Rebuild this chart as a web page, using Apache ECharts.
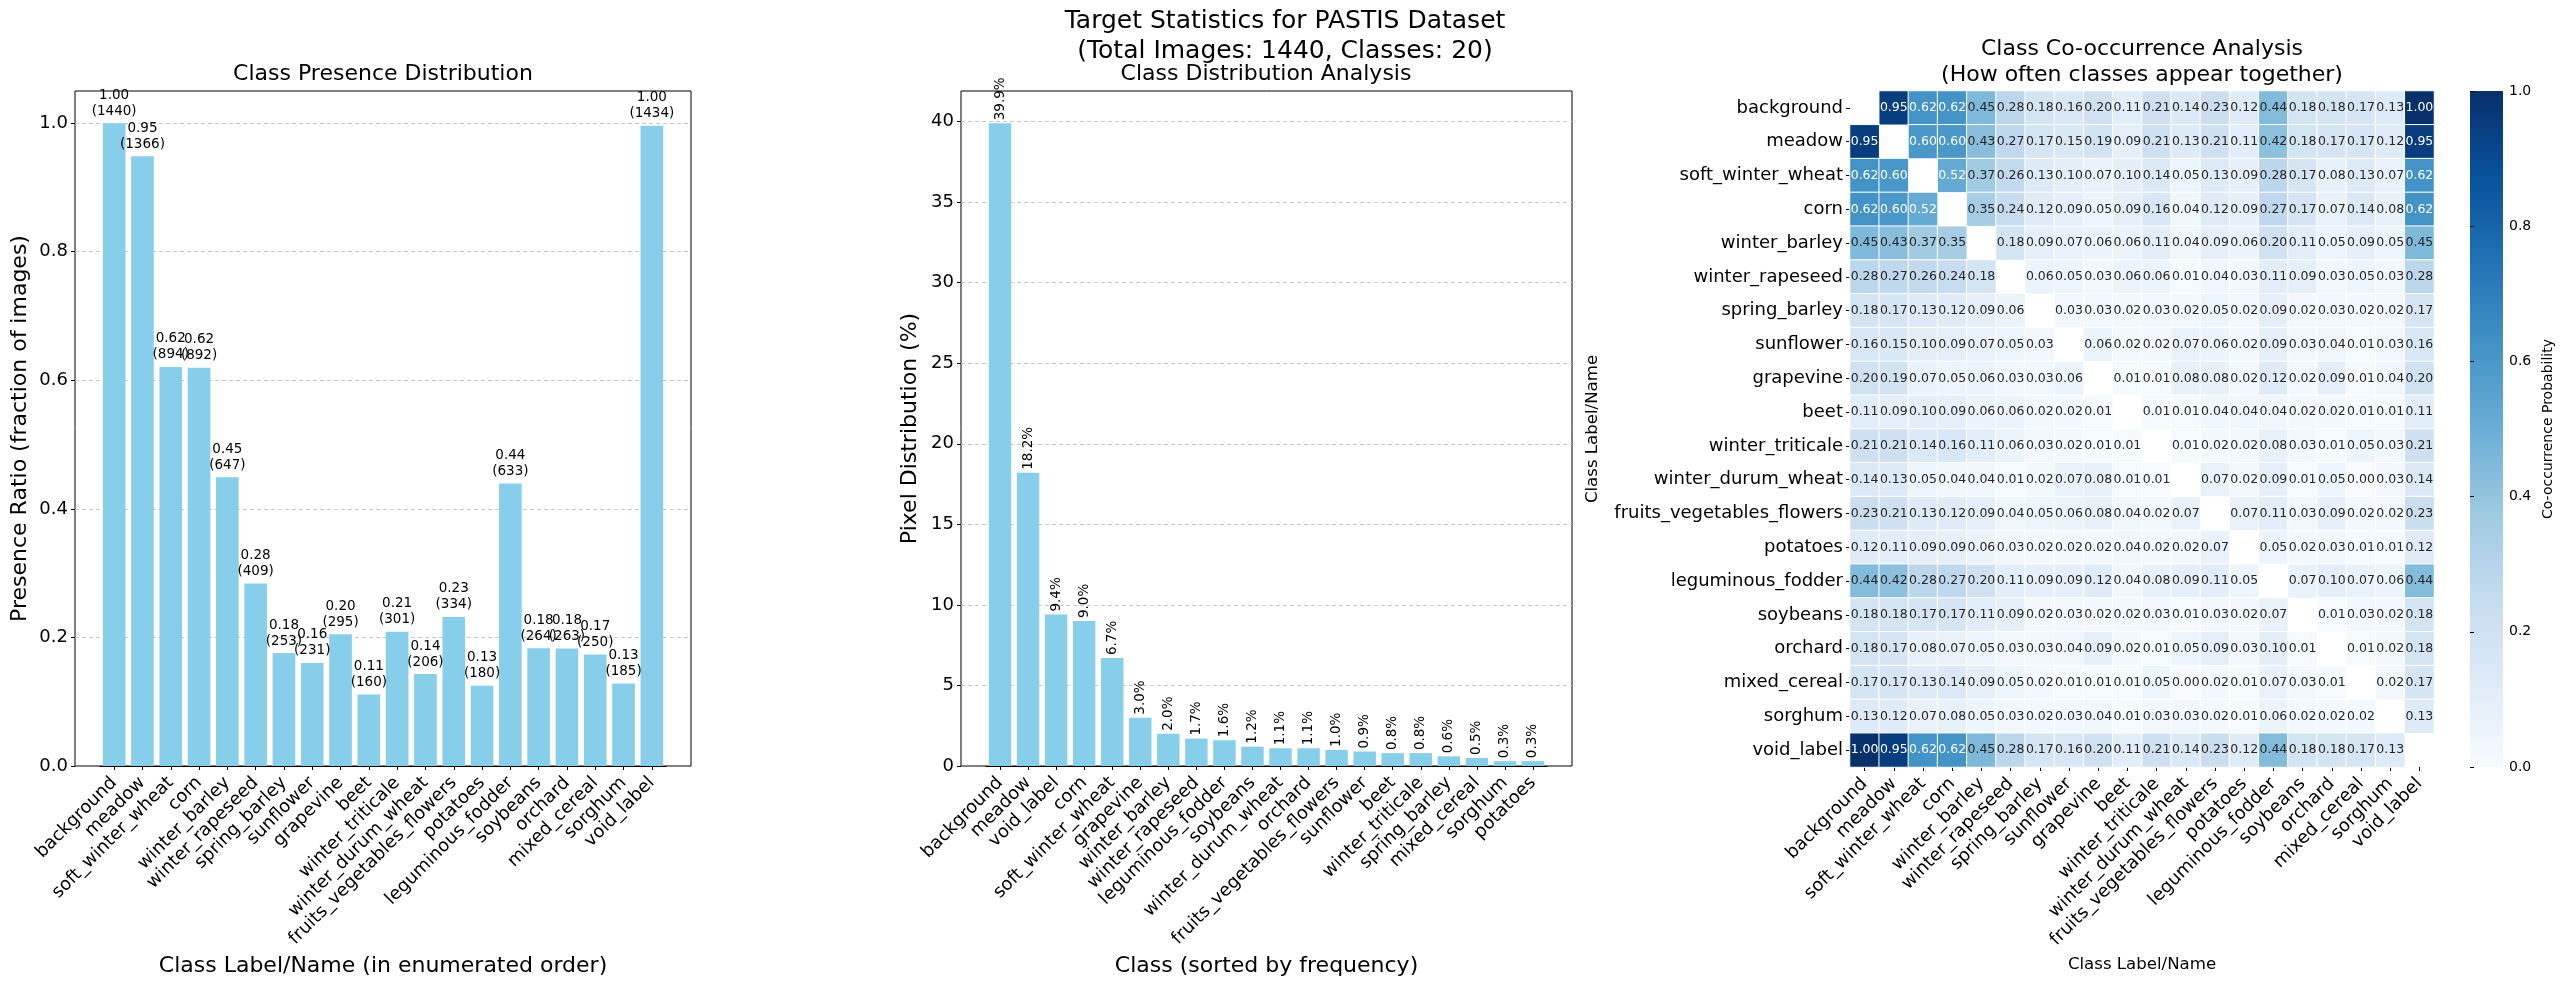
<!DOCTYPE html>
<html>
<head>
<meta charset="utf-8">
<title>PASTIS target statistics</title>
<script src="https://cdn.jsdelivr.net/npm/echarts@6.0.0/dist/echarts.min.js"></script>
<style>
  html, body { margin: 0; padding: 0; background: #fff; }
  #chart { width: 2565px; height: 985px; }
</style>
</head>
<body>
<div id="chart"></div>
<script>
// class names in enumerated order
var classNames = ['background', 'meadow', 'soft_winter_wheat', 'corn', 'winter_barley',
  'winter_rapeseed', 'spring_barley', 'sunflower', 'grapevine', 'beet', 'winter_triticale',
  'winter_durum_wheat', 'fruits_vegetables_flowers', 'potatoes', 'leguminous_fodder',
  'soybeans', 'orchard', 'mixed_cereal', 'sorghum', 'void_label'];

var totalImages = 1440;
// number of images in which each class appears
var presenceCount = [1440, 1366, 894, 892, 647, 409, 253, 231, 295, 160, 301, 206, 334, 180, 633, 264, 263, 250, 185, 1434];

// pixel share, sorted by frequency
var sortedClasses = ['background', 'meadow', 'void_label', 'corn', 'soft_winter_wheat', 'grapevine',
  'winter_barley', 'winter_rapeseed', 'leguminous_fodder', 'soybeans', 'winter_durum_wheat', 'orchard',
  'fruits_vegetables_flowers', 'sunflower', 'beet', 'winter_triticale', 'spring_barley',
  'mixed_cereal', 'sorghum', 'potatoes'];
var pixelPct = [39.9, 18.2, 9.4, 9.0, 6.7, 3.0, 2.0, 1.7, 1.6, 1.2, 1.1, 1.1, 1.0, 0.9, 0.8, 0.8, 0.6, 0.5, 0.3, 0.3];

// co-occurrence matrix (rows = classNames), diagonal masked
var cooc = [
  [null, 0.95, 0.62, 0.62, 0.45, 0.28, 0.18, 0.16, 0.20, 0.11, 0.21, 0.14, 0.23, 0.12, 0.44, 0.18, 0.18, 0.17, 0.13, 1.00],
  [0.95, null, 0.60, 0.60, 0.43, 0.27, 0.17, 0.15, 0.19, 0.09, 0.21, 0.13, 0.21, 0.11, 0.42, 0.18, 0.17, 0.17, 0.12, 0.95],
  [0.62, 0.60, null, 0.52, 0.37, 0.26, 0.13, 0.10, 0.07, 0.10, 0.14, 0.05, 0.13, 0.09, 0.28, 0.17, 0.08, 0.13, 0.07, 0.62],
  [0.62, 0.60, 0.52, null, 0.35, 0.24, 0.12, 0.09, 0.05, 0.09, 0.16, 0.04, 0.12, 0.09, 0.27, 0.17, 0.07, 0.14, 0.08, 0.62],
  [0.45, 0.43, 0.37, 0.35, null, 0.18, 0.09, 0.07, 0.06, 0.06, 0.11, 0.04, 0.09, 0.06, 0.20, 0.11, 0.05, 0.09, 0.05, 0.45],
  [0.28, 0.27, 0.26, 0.24, 0.18, null, 0.06, 0.05, 0.03, 0.06, 0.06, 0.01, 0.04, 0.03, 0.11, 0.09, 0.03, 0.05, 0.03, 0.28],
  [0.18, 0.17, 0.13, 0.12, 0.09, 0.06, null, 0.03, 0.03, 0.02, 0.03, 0.02, 0.05, 0.02, 0.09, 0.02, 0.03, 0.02, 0.02, 0.17],
  [0.16, 0.15, 0.10, 0.09, 0.07, 0.05, 0.03, null, 0.06, 0.02, 0.02, 0.07, 0.06, 0.02, 0.09, 0.03, 0.04, 0.01, 0.03, 0.16],
  [0.20, 0.19, 0.07, 0.05, 0.06, 0.03, 0.03, 0.06, null, 0.01, 0.01, 0.08, 0.08, 0.02, 0.12, 0.02, 0.09, 0.01, 0.04, 0.20],
  [0.11, 0.09, 0.10, 0.09, 0.06, 0.06, 0.02, 0.02, 0.01, null, 0.01, 0.01, 0.04, 0.04, 0.04, 0.02, 0.02, 0.01, 0.01, 0.11],
  [0.21, 0.21, 0.14, 0.16, 0.11, 0.06, 0.03, 0.02, 0.01, 0.01, null, 0.01, 0.02, 0.02, 0.08, 0.03, 0.01, 0.05, 0.03, 0.21],
  [0.14, 0.13, 0.05, 0.04, 0.04, 0.01, 0.02, 0.07, 0.08, 0.01, 0.01, null, 0.07, 0.02, 0.09, 0.01, 0.05, 0.00, 0.03, 0.14],
  [0.23, 0.21, 0.13, 0.12, 0.09, 0.04, 0.05, 0.06, 0.08, 0.04, 0.02, 0.07, null, 0.07, 0.11, 0.03, 0.09, 0.02, 0.02, 0.23],
  [0.12, 0.11, 0.09, 0.09, 0.06, 0.03, 0.02, 0.02, 0.02, 0.04, 0.02, 0.02, 0.07, null, 0.05, 0.02, 0.03, 0.01, 0.01, 0.12],
  [0.44, 0.42, 0.28, 0.27, 0.20, 0.11, 0.09, 0.09, 0.12, 0.04, 0.08, 0.09, 0.11, 0.05, null, 0.07, 0.10, 0.07, 0.06, 0.44],
  [0.18, 0.18, 0.17, 0.17, 0.11, 0.09, 0.02, 0.03, 0.02, 0.02, 0.03, 0.01, 0.03, 0.02, 0.07, null, 0.01, 0.03, 0.02, 0.18],
  [0.18, 0.17, 0.08, 0.07, 0.05, 0.03, 0.03, 0.04, 0.09, 0.02, 0.01, 0.05, 0.09, 0.03, 0.10, 0.01, null, 0.01, 0.02, 0.18],
  [0.17, 0.17, 0.13, 0.14, 0.09, 0.05, 0.02, 0.01, 0.01, 0.01, 0.05, 0.00, 0.02, 0.01, 0.07, 0.03, 0.01, null, 0.02, 0.17],
  [0.13, 0.12, 0.07, 0.08, 0.05, 0.03, 0.02, 0.03, 0.04, 0.01, 0.03, 0.03, 0.02, 0.01, 0.06, 0.02, 0.02, 0.02, null, 0.13],
  [1.00, 0.95, 0.62, 0.62, 0.45, 0.28, 0.17, 0.16, 0.20, 0.11, 0.21, 0.14, 0.23, 0.12, 0.44, 0.18, 0.18, 0.17, 0.13, null]
];

var ratioTicks = [0, 1.05, 0.2];
var pctTicks = [0, 41.9, 5];

// matplotlib "Blues"
var blues = ['#f7fbff', '#deebf7', '#c6dbef', '#9ecae1', '#6baed6', '#4292c6', '#2171b5', '#08519c', '#08306b'];

var FONT = 'DejaVu Sans';
var gridLine = { show: true, lineStyle: { color: '#c8c8c8', type: [4, 3], width: 1 }, showMinLine: false, showMaxLine: false };
var tickStyle = { show: true, inside: false, length: 4, lineStyle: { color: '#000', width: 1 } };

var presenceRatio = presenceCount.map(function (c) { return c / totalImages; });

var heatData = [];
for (var r = 0; r < cooc.length; r++) {
  for (var c = 0; c < cooc[r].length; c++) {
    var v = cooc[r][c];
    if (v === null) continue;
    heatData.push({
      value: [c, r, v],
      label: { color: v > 0.5 ? '#ffffff' : '#262626' }
    });
  }
}

var chart = echarts.init(document.getElementById('chart'), null, { renderer: 'canvas' });

chart.setOption({
  animation: false,
  backgroundColor: '#fff',
  textStyle: { fontFamily: FONT, color: '#000' },
  title: [
    {
      text: 'Target Statistics for PASTIS Dataset\n(Total Images: 1440, Classes: 20)',
      left: 1285, top: 6, textAlign: 'center', padding: 0,
      textStyle: { fontSize: 25, fontWeight: 'normal', lineHeight: 30, color: '#000', fontFamily: FONT }
    },
    {
      text: 'Class Presence Distribution', left: 383, top: 61, textAlign: 'center', padding: 0,
      textStyle: { fontSize: 22, fontWeight: 'normal', lineHeight: 26, color: '#000', fontFamily: FONT }
    },
    {
      text: 'Class Distribution Analysis', left: 1266, top: 61, textAlign: 'center', padding: 0,
      textStyle: { fontSize: 22, fontWeight: 'normal', lineHeight: 26, color: '#000', fontFamily: FONT }
    },
    {
      text: 'Class Co-occurrence Analysis\n(How often classes appear together)', left: 2142, top: 36, textAlign: 'center', padding: 0,
      textStyle: { fontSize: 22, fontWeight: 'normal', lineHeight: 26, color: '#000', fontFamily: FONT }
    }
  ],
  grid: [
    { left: 75, top: 91, width: 616, height: 675, show: true, borderColor: '#000', borderWidth: 1, backgroundColor: 'transparent' },
    { left: 100, top: 91, width: 566, height: 675 },
    { left: 961, top: 91, width: 611, height: 675, show: true, borderColor: '#000', borderWidth: 1, backgroundColor: 'transparent' },
    { left: 986, top: 91, width: 561, height: 675 },
    { left: 1850, top: 91, width: 584, height: 676 },
    { left: 2470, top: 91, width: 33, height: 676 }
  ],
  xAxis: [
    { gridIndex: 0, type: 'value', min: 0, max: 1, show: false },
    {
      gridIndex: 1, type: 'category', data: classNames,
      axisLine: { show: true, lineStyle: { color: '#000' } },
      axisTick: Object.assign({ alignWithLabel: true, interval: 0 }, tickStyle),
      axisLabel: { interval: 0, rotate: 45, fontSize: 18, color: '#000', margin: 14, fontFamily: FONT },
      name: 'Class Label/Name (in enumerated order)', nameLocation: 'middle', nameGap: 186,
      nameTextStyle: { fontSize: 22, color: '#000', fontFamily: FONT }
    },
    { gridIndex: 2, type: 'value', min: 0, max: 1, show: false },
    {
      gridIndex: 3, type: 'category', data: sortedClasses,
      axisLine: { show: true, lineStyle: { color: '#000' } },
      axisTick: Object.assign({ alignWithLabel: true, interval: 0 }, tickStyle),
      axisLabel: { interval: 0, rotate: 45, fontSize: 18, color: '#000', margin: 14, fontFamily: FONT },
      name: 'Class (sorted by frequency)', nameLocation: 'middle', nameGap: 186,
      nameTextStyle: { fontSize: 22, color: '#000', fontFamily: FONT }
    },
    {
      gridIndex: 4, type: 'category', data: classNames,
      axisLine: { show: false },
      axisTick: Object.assign({ alignWithLabel: true, interval: 0 }, tickStyle),
      axisLabel: { interval: 0, rotate: 45, fontSize: 18, color: '#000', margin: 14, fontFamily: FONT },
      splitArea: { show: false },
      name: 'Class Label/Name', nameLocation: 'middle', nameGap: 188,
      nameTextStyle: { fontSize: 16.6, color: '#000', fontFamily: FONT }
    },
    { gridIndex: 5, type: 'value', min: 0, max: 1, show: false }
  ],
  yAxis: [
    {
      gridIndex: 0, type: 'value', min: ratioTicks[0], max: ratioTicks[1], interval: ratioTicks[2],
      axisLine: { show: false },
      axisTick: tickStyle,
      axisLabel: { fontSize: 18, color: '#000', margin: 7, showMaxLabel: false, fontFamily: FONT,
        formatter: function (v) { return v.toFixed(1); } },
      splitLine: gridLine,
      name: 'Presence Ratio (fraction of images)', nameLocation: 'middle', nameGap: 44,
      nameTextStyle: { fontSize: 22, color: '#000', fontFamily: FONT }
    },
    { gridIndex: 1, type: 'value', min: ratioTicks[0], max: ratioTicks[1], show: false },
    {
      gridIndex: 2, type: 'value', min: pctTicks[0], max: pctTicks[1], interval: pctTicks[2],
      axisLine: { show: false },
      axisTick: tickStyle,
      axisLabel: { fontSize: 18, color: '#000', margin: 7, showMaxLabel: false, fontFamily: FONT },
      splitLine: gridLine,
      name: 'Pixel Distribution (%)', nameLocation: 'middle', nameGap: 40,
      nameTextStyle: { fontSize: 22, color: '#000', fontFamily: FONT }
    },
    { gridIndex: 3, type: 'value', min: pctTicks[0], max: pctTicks[1], show: false },
    {
      gridIndex: 4, type: 'category', data: classNames, inverse: true,
      axisLine: { show: false },
      axisTick: Object.assign({ alignWithLabel: true, interval: 0 }, tickStyle),
      axisLabel: { interval: 0, fontSize: 18, color: '#000', margin: 7, fontFamily: FONT },
      splitArea: { show: false },
      name: 'Class Label/Name', nameLocation: 'middle', nameGap: 249,
      nameTextStyle: { fontSize: 16.6, color: '#000', fontFamily: FONT }
    },
    {
      gridIndex: 5, type: 'value', min: 0, max: 1, interval: 0.2, position: 'right',
      axisLine: { show: false },
      axisTick: tickStyle,
      axisLabel: { fontSize: 14, color: '#000', margin: 6, fontFamily: FONT,
        formatter: function (v) { return v.toFixed(1); } },
      splitLine: { show: false },
      name: 'Co-occurrence Probability', nameLocation: 'middle', nameGap: 38, nameRotate: 90,
      nameTextStyle: { fontSize: 14, color: '#000', fontFamily: FONT }
    }
  ],
  visualMap: {
    type: 'continuous', show: false, min: 0, max: 1, seriesIndex: 2,
    inRange: { color: blues }
  },
  graphic: [
    {
      type: 'rect', left: 2470, top: 91, z: 0,
      shape: { width: 33, height: 676 },
      style: {
        fill: new echarts.graphic.LinearGradient(0, 0, 0, 1, blues.slice().reverse().map(function (col, i, arr) {
          return { offset: i / (arr.length - 1), color: col };
        }))
      }
    }
  ],
  series: [
    {
      type: 'bar', name: 'presence', xAxisIndex: 1, yAxisIndex: 1,
      data: presenceRatio, barWidth: '80%',
      itemStyle: { color: '#87ceeb' },
      label: {
        show: true, position: 'top', distance: 4, color: '#000',
        formatter: function (p) {
          return p.value.toFixed(2) + '\n(' + presenceCount[p.dataIndex] + ')';
        },
        fontSize: 13.5, lineHeight: 16, fontFamily: FONT
      }
    },
    {
      type: 'bar', name: 'pixels', xAxisIndex: 3, yAxisIndex: 3,
      data: pixelPct, barWidth: '80%',
      itemStyle: { color: '#87ceeb' },
      label: {
        show: true, position: 'top', distance: 3, rotate: 90, align: 'left', verticalAlign: 'middle',
        color: '#000', fontSize: 13.5, fontFamily: FONT,
        formatter: function (p) { return p.value.toFixed(1) + '%'; }
      }
    },
    {
      type: 'heatmap', name: 'cooccurrence', xAxisIndex: 4, yAxisIndex: 4,
      data: heatData,
      itemStyle: { borderColor: '#ffffff', borderWidth: 1 },
      label: {
        show: true, fontSize: 12.5, fontFamily: FONT,
        formatter: function (p) { return p.value[2].toFixed(2); }
      },
      emphasis: { disabled: true }
    }
  ]
});
</script>
</body>
</html>
